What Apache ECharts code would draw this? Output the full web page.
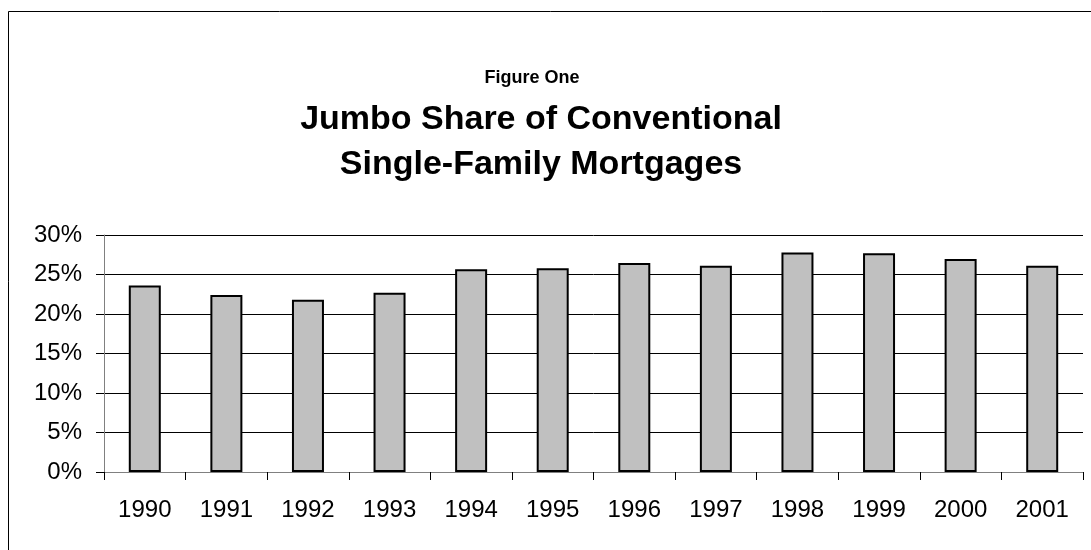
<!DOCTYPE html>
<html>
<head>
<meta charset="utf-8">
<script src="https://cdn.jsdelivr.net/npm/echarts@6/dist/echarts.min.js"></script>
<style>
  html, body { margin: 0; padding: 0; background: #fff; }
  #chart { width: 1091px; height: 550px; }
</style>
</head>
<body>
<div id="chart"></div>
<script>
const years = ['1990', '1991', '1992', '1993', '1994', '1995', '1996', '1997', '1998', '1999', '2000', '2001'];
const jumboShare = [0.236, 0.224, 0.218, 0.227, 0.2565, 0.258, 0.2645, 0.261, 0.278, 0.277, 0.2695, 0.261];
const yTicks = [0, 0.05, 0.10, 0.15, 0.20, 0.25, 0.30];

const font = '"Liberation Sans", Arial, sans-serif';

echarts.init(document.getElementById('chart')).setOption({
    animation: false,
    backgroundColor: '#fff',
    title: [
        {
            text: 'Figure One',
            left: 527,
            top: 64,
            textAlign: 'center',
            textStyle: { fontFamily: font, fontSize: 18, fontWeight: 'bold', color: '#000' },
        },
        {
            text: 'Jumbo Share of Conventional\nSingle-Family Mortgages',
            left: 536,
            top: 92,
            textAlign: 'center',
            textStyle: { fontFamily: font, fontSize: 34, fontWeight: 'bold', color: '#000', lineHeight: 45 },
        },
    ],
    graphic: [
        {
            type: 'rect',
            shape: { x: 8.5, y: 11.5, width: 1200, height: 600 },
            style: { fill: 'none', stroke: '#000', lineWidth: 1 },
            silent: true,
        },
    ],
    grid: { left: 104, right: 8, top: 235, bottom: 78 },
    xAxis: {
        type: 'category',
        data: years,
        axisLine: { lineStyle: { color: '#808080', width: 1 } },
        axisTick: { show: true, length: 8, lineStyle: { color: '#000' } },
        axisLabel: { fontFamily: font, fontSize: 24, color: '#000', margin: 26 },
    },
    yAxis: {
        type: 'value',
        min: yTicks[0],
        max: yTicks[yTicks.length - 1],
        interval: 0.05,
        axisLine: { show: true, lineStyle: { color: '#808080', width: 1 } },
        axisTick: { show: true, length: 8, lineStyle: { color: '#000' } },
        axisLabel: {
            fontFamily: font, fontSize: 24, color: '#000', margin: 22,
            formatter: v => Math.round(v * 100) + '%',
        },
        splitLine: { show: true, lineStyle: { color: '#000', width: 1 } },
    },
    series: [
        {
            type: 'bar',
            data: jumboShare,
            barWidth: 32,
            itemStyle: { color: '#c0c0c0', borderColor: '#000', borderWidth: 2 },
        },
    ],
});
</script>
</body>
</html>
